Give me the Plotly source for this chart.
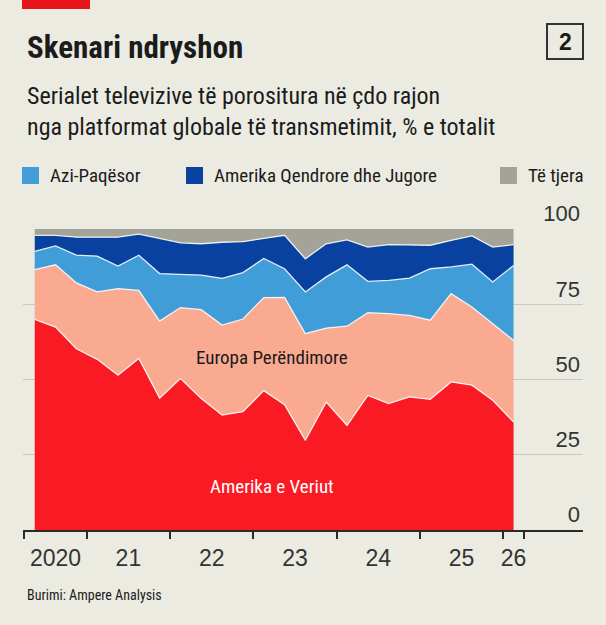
import plotly.graph_objects as go

# quarterly share of commissioned TV series by region (%)
quarters = ["2020Q2", "2020Q3", "2020Q4", "2021Q1", "2021Q2", "2021Q3", "2021Q4",
            "2022Q1", "2022Q2", "2022Q3", "2022Q4", "2023Q1", "2023Q2", "2023Q3",
            "2023Q4", "2024Q1", "2024Q2", "2024Q3", "2024Q4", "2025Q1", "2025Q2",
            "2025Q3", "2025Q4", "2026Q1"]
north_america = [70.0, 67.4, 60.2, 56.7, 51.4, 57.0, 43.8, 50.3, 43.7, 38.2, 39.3, 46.3,
                 41.6, 29.8, 42.5, 34.7, 44.7, 42.0, 44.2, 43.4, 49.2, 48.1, 43.1, 35.9]
western_europe = [16.5, 20.7, 21.9, 22.4, 28.8, 22.6, 25.6, 23.6, 29.5, 29.9, 30.8, 30.9,
                  35.7, 35.4, 24.6, 33.0, 27.5, 29.9, 27.1, 26.3, 29.3, 26.0, 25.4, 27.1]
asia_pacific = [6.1, 6.3, 9.2, 11.9, 7.5, 11.7, 15.8, 11.0, 11.5, 15.5, 15.4, 13.0,
                9.5, 13.9, 17.0, 20.4, 10.4, 11.0, 12.4, 17.1, 8.9, 14.2, 13.9, 24.9]
latin_america = [5.3, 3.5, 6.0, 6.2, 9.6, 7.0, 11.6, 10.5, 10.4, 12.0, 10.3, 6.6,
                 11.1, 11.0, 11.0, 8.3, 11.4, 11.9, 10.9, 7.8, 8.8, 9.4, 11.6, 6.9]
other = [2.1, 2.1, 2.7, 2.8, 2.7, 1.7, 3.2, 4.6, 4.9, 4.4, 4.2, 3.2,
         2.1, 9.9, 4.9, 3.6, 6.0, 5.2, 5.4, 5.4, 3.8, 2.3, 6.0, 5.2]

# x axis: year boundaries get tick marks, labels sit in the middle of each year
tick_bounds = [2020.25, 2021, 2022, 2023, 2024, 2025, 2026, 2026.25]
year_labels = ["2020", "21", "22", "23", "24", "25", "26"]
y_ticks = [0, 25, 50, 75, 100]

# quarter label -> decimal year at the middle of the quarter
x = [int(q[:4]) + (int(q[5]) - 1) * 0.25 + 0.125 for q in quarters]
label_pos = [(a + b) / 2 for a, b in zip(tick_bounds[:-1], tick_bounds[1:])]

BG = "#ECEBE2"
NARROW = "Liberation Sans Narrow, Roboto Condensed, DejaVu Sans Condensed, Arial Narrow, sans-serif"
PLAIN = "Liberation Sans, Arial, Helvetica, sans-serif"
INK = "#1b1b1b"

W, H = 606, 625
L, R, T, B = 23, 23, 229, 95


def px(v):
    return (v - L) / (W - L - R)


def py(v):
    return (H - B - v) / (H - T - B)


series = [
    ("Amerika e Veriut", north_america, "#FA1A23"),
    ("Europa Perëndimore", western_europe, "#FAAA91"),
    ("Azi-Paqësor", asia_pacific, "#419DD8"),
    ("Amerika Qendrore dhe Jugore", latin_america, "#0841A0"),
    ("Të tjera", other, "#A3A397"),
]

fig = go.Figure()
for name, vals, col in series:
    last = name == "Të tjera"
    fig.add_trace(go.Scatter(
        x=x, y=vals, name=name, stackgroup="one", mode="lines",
        fillcolor=col,
        line=dict(color="rgba(255,255,255,0.85)", width=0 if last else 1.3),
        showlegend=False, hoverinfo="skip"))

fig.update_layout(
    width=W, height=H,
    margin=dict(l=L, r=R, t=T, b=B, pad=0),
    paper_bgcolor=BG, plot_bgcolor=BG,
    showlegend=False,
)

fig.update_xaxes(
    range=[2020.234, 2026.959],
    tickvals=label_pos, ticktext=year_labels,
    ticks="outside", ticklen=6, tickcolor="rgba(0,0,0,0)",
    tickfont=dict(family=PLAIN, size=23, color="#333333"),
    showgrid=False, zeroline=False,
    showline=True, linecolor="#2a2a2a", linewidth=2,
    minor=dict(tickvals=tick_bounds, ticks="outside", ticklen=7,
               tickcolor="#2a2a2a", tickwidth=1.5, showgrid=False),
)

fig.update_yaxes(
    range=[0, 100], tickvals=y_ticks, side="right",
    ticklabelposition="inside top", ticklabeloverflow="allow",
    ticks="", tickfont=dict(family=PLAIN, size=22, color="#333333"),
    showgrid=True, gridcolor="#C9C9C0", gridwidth=1.3,
    zeroline=False, showline=False,
)

shapes = []
# red tab at the top
shapes.append(dict(type="rect", xref="paper", yref="paper",
                   x0=px(22), x1=px(90), y0=py(0), y1=py(9),
                   fillcolor="#E8141C", line_width=0))
# chart number box
shapes.append(dict(type="rect", xref="paper", yref="paper",
                   x0=px(547), x1=px(583), y0=py(59), y1=py(24),
                   fillcolor="rgba(0,0,0,0)", line=dict(color="#333333", width=2)))

# legend swatches
legend_items = [("Azi-Paqësor", "#419DD8", 22),
                ("Amerika Qendrore dhe Jugore", "#0841A0", 186),
                ("Të tjera", "#A3A397", 500)]
annotations = []
for txt, col, x0 in legend_items:
    shapes.append(dict(type="rect", xref="paper", yref="paper",
                       x0=px(x0), x1=px(x0 + 17), y0=py(184), y1=py(167),
                       fillcolor=col, line_width=0))
    annotations.append(dict(x=px(x0 + 26), y=py(175.5), xref="paper", yref="paper",
                            text=txt, showarrow=False, xanchor="left", yanchor="middle",
                            font=dict(family=NARROW, size=19, color=INK)))

annotations += [
    dict(x=px(25), y=py(47), xref="paper", yref="paper", text="<b>Skenari ndryshon</b>",
         showarrow=False, xanchor="left", yanchor="middle",
         font=dict(family=NARROW, size=31, color=INK)),
    dict(x=px(565), y=py(42), xref="paper", yref="paper", text="<b>2</b>",
         showarrow=False, xanchor="center", yanchor="middle",
         font=dict(family=PLAIN, size=23, color=INK)),
    dict(x=px(25), y=py(96), xref="paper", yref="paper",
         text="Serialet televizive të porositura në çdo rajon",
         showarrow=False, xanchor="left", yanchor="middle",
         font=dict(family=NARROW, size=24, color=INK)),
    dict(x=px(25), y=py(127), xref="paper", yref="paper",
         text="nga platformat globale të transmetimit, % e totalit",
         showarrow=False, xanchor="left", yanchor="middle",
         font=dict(family=NARROW, size=24, color=INK)),
    dict(x=px(25), y=py(595), xref="paper", yref="paper", text="Burimi: Ampere Analysis",
         showarrow=False, xanchor="left", yanchor="middle",
         font=dict(family=NARROW, size=14, color=INK)),
    dict(x=2023.23, y=57.2, xref="x", yref="y", text="Europa Perëndimore",
         showarrow=False, xanchor="center", yanchor="middle",
         font=dict(family=NARROW, size=19, color=INK)),
    dict(x=2023.23, y=14.6, xref="x", yref="y", text="Amerika e Veriut",
         showarrow=False, xanchor="center", yanchor="middle",
         font=dict(family=NARROW, size=19, color="white")),
]

fig.update_layout(shapes=shapes, annotations=annotations)

# drop the default page margin so the figure fills the window exactly
fig.write_html("out.html", config={"displayModeBar": False},
               post_script="document.body.style.margin='0';")
